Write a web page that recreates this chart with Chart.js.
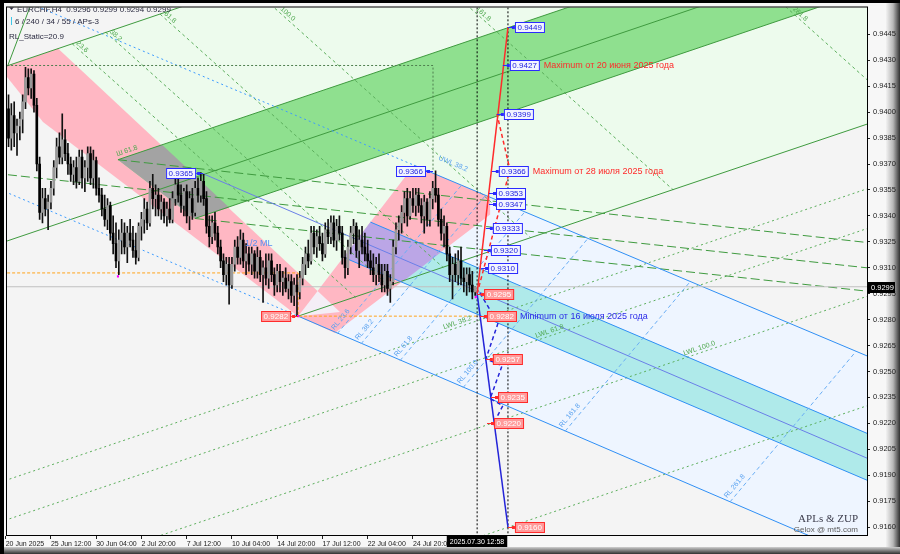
<!DOCTYPE html>
<html>
<head>
<meta charset="utf-8">
<script src="https://cdn.jsdelivr.net/npm/chart.js@4.4.1/dist/chart.umd.min.js"></script>
<style>
html,body{margin:0;padding:0;background:#000;}
canvas{display:block;}
</style>
</head>
<body>
<canvas id="c" width="900" height="554"></canvas>
<script>
// EURCHF H4 candles, bar index 0 = 20 Jun 20:00
const opens=[0.9385,0.9402,0.9385,0.9398,0.9388,0.9392,0.9396,0.9406,0.9420,0.9414,0.9422,0.9404,0.9370,0.9342,0.9350,0.9344,0.9348,0.9356,0.9368,0.9380,
0.9374,0.9384,0.9376,0.9370,0.9364,0.9368,0.9360,0.9374,0.9362,0.9368,0.9376,0.9362,0.9372,0.9356,0.9352,0.9344,0.9338,0.9346,0.9330,0.9324,
0.9314,0.9326,0.9330,0.9322,0.9330,0.9326,0.9320,0.9316,0.9334,0.9338,0.9344,0.9336,0.9356,0.9350,0.9352,0.9344,0.9348,0.9340,0.9344,0.9338,
0.9350,0.9358,0.9352,0.9346,0.9354,0.9340,0.9350,0.9342,0.9356,0.9352,0.9360,0.9350,0.9334,0.9328,0.9336,0.9330,0.9322,0.9314,0.9306,0.9312,
0.9300,0.9312,0.9322,0.9316,0.9326,0.9314,0.9318,0.9312,0.9318,0.9308,0.9316,0.9306,0.9310,0.9304,0.9314,0.9306,0.9300,0.9308,0.9302,0.9304,
0.9298,0.9302,0.9294,0.9300,0.9296,0.9304,0.9312,0.9318,0.9314,0.9330,0.9322,0.9328,0.9324,0.9318,0.9332,0.9328,0.9336,0.9326,0.9334,0.9330,
0.9316,0.9310,0.9322,0.9330,0.9334,0.9320,0.9326,0.9322,0.9318,0.9314,0.9310,0.9306,0.9312,0.9306,0.9300,0.9308,0.9298,0.9302,0.9322,0.9332,
0.9336,0.9342,0.9350,0.9340,0.9350,0.9346,0.9352,0.9346,0.9340,0.9348,0.9338,0.9350,0.9356,0.9352,0.9338,0.9330,0.9334,0.9318,0.9306,0.9312,
0.9306,0.9314,0.9304,0.9302,0.9306,0.9300,0.9296];
const highs=[0.9408,0.9410,0.9405,0.9406,0.9396,0.9400,0.9410,0.9426,0.9425,0.9425,0.9424,0.9408,0.9374,0.9356,0.9356,0.9352,0.9360,0.9372,0.9385,0.9388,
0.9399,0.9390,0.9382,0.9374,0.9372,0.9374,0.9378,0.9378,0.9372,0.9380,0.9380,0.9378,0.9374,0.9362,0.9356,0.9352,0.9350,0.9348,0.9340,0.9336,
0.9332,0.9338,0.9336,0.9334,0.9338,0.9334,0.9330,0.9336,0.9342,0.9350,0.9348,0.9360,0.9364,0.9358,0.9356,0.9352,0.9350,0.9348,0.9350,0.9354,
0.9362,0.9362,0.9358,0.9356,0.9358,0.9354,0.9356,0.9360,0.9362,0.9365,0.9364,0.9354,0.9340,0.9340,0.9342,0.9334,0.9326,0.9318,0.9316,0.9316,
0.9316,0.9326,0.9328,0.9332,0.9330,0.9324,0.9322,0.9322,0.9320,0.9322,0.9320,0.9314,0.9318,0.9318,0.9318,0.9310,0.9312,0.9312,0.9308,0.9310,
0.9306,0.9306,0.9304,0.9306,0.9308,0.9316,0.9322,0.9326,0.9334,0.9334,0.9332,0.9334,0.9330,0.9336,0.9338,0.9340,0.9340,0.9338,0.9340,0.9334,
0.9320,0.9326,0.9334,0.9338,0.9336,0.9332,0.9334,0.9330,0.9326,0.9320,0.9318,0.9316,0.9318,0.9312,0.9312,0.9312,0.9306,0.9326,0.9336,0.9340,
0.9346,0.9354,0.9356,0.9354,0.9356,0.9356,0.9356,0.9350,0.9352,0.9350,0.9354,0.9360,0.9366,0.9356,0.9344,0.9340,0.9336,0.9322,0.9316,0.9318,
0.9320,0.9322,0.9310,0.9310,0.9310,0.9308,0.9299];
const lows=[0.9366,0.9380,0.9378,0.9380,0.9375,0.9384,0.9388,0.9402,0.9410,0.9408,0.9400,0.9366,0.9338,0.9336,0.9340,0.9332,0.9344,0.9352,0.9362,0.9370,
0.9370,0.9372,0.9364,0.9360,0.9358,0.9356,0.9358,0.9356,0.9354,0.9360,0.9358,0.9356,0.9352,0.9348,0.9340,0.9334,0.9332,0.9326,0.9318,0.9310,
0.9306,0.9318,0.9318,0.9313,0.9322,0.9316,0.9312,0.9314,0.9326,0.9330,0.9332,0.9334,0.9344,0.9340,0.9340,0.9338,0.9336,0.9334,0.9336,0.9336,
0.9346,0.9348,0.9342,0.9340,0.9336,0.9332,0.9338,0.9340,0.9348,0.9348,0.9346,0.9330,0.9322,0.9324,0.9326,0.9318,0.9310,0.9302,0.9300,0.9289,
0.9298,0.9308,0.9312,0.9312,0.9310,0.9306,0.9308,0.9306,0.9304,0.9304,0.9302,0.9290,0.9300,0.9298,0.9302,0.9294,0.9296,0.9296,0.9294,0.9296,
0.9292,0.9290,0.9288,0.9282,0.9292,0.9300,0.9306,0.9310,0.9312,0.9318,0.9316,0.9320,0.9314,0.9316,0.9324,0.9324,0.9322,0.9320,0.9326,0.9312,
0.9304,0.9306,0.9318,0.9324,0.9316,0.9310,0.9318,0.9314,0.9310,0.9306,0.9302,0.9300,0.9302,0.9296,0.9296,0.9294,0.9290,0.9300,0.9318,0.9326,
0.9330,0.9336,0.9334,0.9338,0.9342,0.9340,0.9342,0.9336,0.9330,0.9334,0.9334,0.9344,0.9348,0.9334,0.9326,0.9322,0.9314,0.9302,0.9292,0.9302,
0.9300,0.9300,0.9296,0.9294,0.9296,0.9292,0.9294];
const closes=[0.9402,0.9385,0.9398,0.9388,0.9392,0.9396,0.9406,0.9420,0.9414,0.9422,0.9404,0.9370,0.9342,0.9350,0.9344,0.9348,0.9356,0.9368,0.9380,0.9374,
0.9384,0.9376,0.9370,0.9364,0.9368,0.9360,0.9374,0.9362,0.9368,0.9376,0.9362,0.9372,0.9356,0.9352,0.9344,0.9338,0.9346,0.9330,0.9324,0.9314,
0.9326,0.9330,0.9322,0.9330,0.9326,0.9320,0.9316,0.9334,0.9338,0.9344,0.9336,0.9356,0.9350,0.9352,0.9344,0.9348,0.9340,0.9344,0.9338,0.9350,
0.9358,0.9352,0.9346,0.9354,0.9340,0.9350,0.9342,0.9356,0.9352,0.9360,0.9350,0.9334,0.9328,0.9336,0.9330,0.9322,0.9314,0.9306,0.9312,0.9300,
0.9312,0.9322,0.9316,0.9326,0.9314,0.9318,0.9312,0.9318,0.9308,0.9316,0.9306,0.9310,0.9304,0.9314,0.9306,0.9300,0.9308,0.9302,0.9304,0.9298,
0.9302,0.9294,0.9300,0.9296,0.9304,0.9312,0.9318,0.9314,0.9330,0.9322,0.9328,0.9324,0.9318,0.9332,0.9328,0.9336,0.9326,0.9334,0.9330,0.9316,
0.9310,0.9322,0.9330,0.9334,0.9320,0.9326,0.9322,0.9318,0.9314,0.9310,0.9306,0.9312,0.9306,0.9300,0.9308,0.9298,0.9302,0.9322,0.9332,0.9336,
0.9342,0.9350,0.9340,0.9350,0.9346,0.9352,0.9346,0.9340,0.9348,0.9338,0.9350,0.9356,0.9352,0.9338,0.9330,0.9334,0.9318,0.9306,0.9312,0.9306,
0.9314,0.9304,0.9302,0.9306,0.9300,0.9296,0.9299];

const timeTicks=[0,16,32,48,64,80,96,112,128,144];
const timeLabels=["20 Jun 2025","25 Jun 12:00","30 Jun 04:00","2 Jul 20:00","7 Jul 12:00","10 Jul 04:00","14 Jul 20:00","17 Jul 12:00","22 Jul 04:00","24 Jul 20:00"];
const priceTicks=[0.9160,0.9175,0.9190,0.9205,0.9220,0.9235,0.9250,0.9265,0.9280,0.9295,0.9310,0.9325,0.9340,0.9355,0.9370,0.9385,0.9400,0.9415,0.9430,0.9445];

// filled zones [bar, price]
const paleGreenZone=[[18.5,0.94369],[316.2,0.96016],[316.2,0.93995],[103.4,0.9282]];
const lightBlueZone=[[103.4,0.9282],[144.4,0.93693],[316.2,0.92510],[316.2,0.91324]];
const pinkZone1=[[-2.0,0.94254],[18.5,0.94369],[118.2,0.92844],[103.4,0.9282],[13.2,0.93943]];
const greenBand=[[39.7,0.93725],[316.2,0.95256],[316.2,0.94767],[66.9,0.93385]];
const grayZone=[[39.7,0.93725],[55.3,0.93811],[79.0,0.93448],[66.9,0.93385]];
const cyanBand=[[119.5,0.93160],[129.0,0.93364],[316.2,0.92061],[316.2,0.91790]];
const pinkZone2=[[103.4,0.9282],[144.4,0.93693],[171.3,0.93509],[171.3,0.93408],[116.4,0.92723]];
const purpleZone=[[129.0,0.93364],[153.9,0.93189],[140.1,0.93016],[119.5,0.93160]];
const whiteZone=[[103.4,0.9282],[110.3,0.92965],[118.2,0.92844]];

// green pitchfork lines
const greenSolid=[
  [[-2.0,0.94254],[68.7,0.94646]],
  [[0.8,0.94272],[9.3,0.94640]],
  [[39.7,0.93725],[316.2,0.95256]],
  [[-2.0,0.93241],[316.2,0.95003]],
  [[66.9,0.93385],[316.2,0.94767]],
  [[103.4,0.9282],[316.2,0.93995]]
];
const greenDotted=[
  [[-2.0,0.91859],[316.2,0.93621]],
  [[-2.0,0.91629],[316.2,0.93391]],
  [[-2.0,0.91237],[316.2,0.92999]],
  [[-2.0,0.90604],[316.2,0.92366]]
];
const greenLongDash=[
  [[39.7,0.93725],[316.2,0.93225]],
  [[0.8,0.93638],[316.2,0.93079]],
  [[66.9,0.93385],[316.2,0.92944]]
];
const greenFan=[
  [[23.5,0.94396],[123.7,0.92929]],
  [[35.4,0.94462],[135.5,0.92994]],
  [[54.6,0.94567],[154.7,0.93101]],
  [[85.7,0.94740],[185.7,0.93273]],
  [[135.9,0.95018],[236.0,0.93551]],
  [[217.3,0.95468],[317.3,0.94001]]
];
const greenFanNames=["23.6","38.2","61.8","100.0","161.8","261.8"];

// blue pitchfork lines
const blueSolid=[
  [[103.4,0.9282],[316.2,0.91324]],
  [[144.4,0.93693],[316.2,0.92510]],
  [[129.0,0.93364],[316.2,0.92061]],
  [[119.5,0.93160],[316.2,0.91790]]
];
const blueMedian=[[69.8,0.93644],[316.2,0.91917]];
const blueDotted=[
  [[-2.0,0.93552],[103.4,0.9282]],
  [[-2.0,0.94702],[144.4,0.93693]]
];
const blueRL=[
  [[117.2,0.92718],[161.2,0.93578]],
  [[125.6,0.92659],[169.7,0.93519]],
  [[139.4,0.92562],[183.6,0.93424]],
  [[161.7,0.92406],[205.9,0.93270]],
  [[197.8,0.92154],[242.1,0.93021]],
  [[256.1,0.91745],[300.7,0.92617]]
];
const blueRLNames=["RL 23.6","RL 38.2","RL 61.8","RL 100.0","RL 161.8","RL 261.8"];

const maxLevel=[[0.5,0.9427],[151.1,0.9427],[151.1,0.9366]];
const minLevel=[[0.5,0.9307],[103.4,0.9307],[103.4,0.9282],[167.7,0.9282]];
const bidLine=[[0.5,0.9299],[305,0.9299]];
const nowBar=166.7, targetBar=177.6;

// ZUP projections
const upSolid=[[166.7,0.9295],[177.6,0.9449]];
const upDash=[[166.7,0.9295],[178.3,0.93667],[173.7,0.9399]];
const downSolid=[[166.7,0.9295],[177.6,0.9160]];
const downDash=[[167.7,0.92953],[174.1,0.92780],[169.8,0.92573],[175.5,0.92533],[171.3,0.92343],[175.8,0.92302],[172.3,0.92193]];
const upLevels=[0.9449,0.9427,0.9399,0.9366,0.9353,0.9347,0.9333,0.9320,0.9310];
const upBars=[177.6,175.8,173.7,171.9,170.9,170.9,169.8,169.1,168.1];
const downLevels=[0.9295,0.9282,0.9257,0.9235,0.9220,0.9160];
const downBars=[166.7,167.7,169.8,171.6,170.2,177.6];

const layers=[];
const P=a=>a.map(p=>({x:p[0],y:p[1]}));
function zone(pts,color){
  layers.push({type:'line',data:P(pts.concat([pts[0]])),fill:'shape',backgroundColor:color,borderWidth:0,pointRadius:0});
}
function path(pts,color,w,dash){
  layers.push({type:'line',data:P(pts),fill:false,borderColor:color,borderWidth:w,borderDash:dash||[],pointRadius:0});
}

zone(paleGreenZone,'#edfbed');
zone(lightBlueZone,'#eef5ff');
zone(pinkZone1,'#ffb7c3');
zone(greenBand,'#8fe08f');
zone(grayZone,'#a3a3a3');
zone(cyanBand,'#afeaea');
zone(pinkZone2,'#ffb7c3');
zone(purpleZone,'#bba6e6');
zone(whiteZone,'#f4eef6');

greenDotted.forEach(l=>path(l,'#5cae5c',1,[2,3]));
greenFan.forEach(l=>path(l,'#5cae5c',1,[3,3]));
greenLongDash.forEach(l=>path(l,'#3f9a3f',1,[9,4]));
greenSolid.forEach(l=>path(l,'#3f9a3f',1));
blueDotted.forEach(l=>path(l,'#3d9bff',1,[2,3]));
blueSolid.forEach(l=>path(l,'#2f8ff5',1));
path(blueMedian,'#6a7fe8',1);
blueRL.forEach(l=>path(l,'#6aaef5',1,[4,3]));
path(maxLevel,'#4f7f4f',1,[2,2]);
path(minLevel,'#ffa31a',1,[3,2]);
path(bidLine,'#c0c0c0',1);
path([[nowBar,0.95],[nowBar,0.91]],'#000',1,[2,2]);
path([[targetBar,0.95],[targetBar,0.91]],'#000',1,[2,2]);

layers.push({type:'bar',data:highs.map((h,i)=>({x:i,y:[lows[i],h]})),backgroundColor:'#111',barThickness:1,grouped:false,borderWidth:0});
layers.push({type:'bar',data:opens.map((o,i)=>({x:i,y:[o,closes[i]]})),backgroundColor:opens.map((o,i)=>closes[i]>=o?'#999999':'#000'),barThickness:2,grouped:false,borderWidth:0,minBarLength:1});

path(upSolid,'#ff2a2a',1.5);
path(upDash,'#ff2a2a',1.5,[4,3]);
path(downSolid,'#2424d8',1.5);
path(downDash,'#2424d8',1.5,[4,3]);
layers.push({type:'scatter',data:P([[39.7,0.9305],[103.4,0.9282],[166.2,0.9293]]),pointStyle:'rect',pointRadius:1.5,backgroundColor:'#ff00ff',borderWidth:0});

layers.forEach((d,i)=>{d.order=layers.length-i;});

const FONT='"Liberation Sans", Arial, sans-serif';

function priceBox(ctx,x,y,txt,blue,side){
  ctx.font='8px '+FONT;
  const w=Math.ceil(ctx.measureText(txt).width)+5, h=11;
  const bx=side>0?x+7:x-7-w;
  const edge=blue?'#2b2bff':'#ff2b2b';
  ctx.strokeStyle=edge; ctx.lineWidth=1;
  ctx.beginPath();
  ctx.moveTo(x,Math.round(y)+0.5); ctx.lineTo(side>0?bx:bx+w,Math.round(y)+0.5); ctx.stroke();
  ctx.fillStyle=edge; ctx.fillRect(side>0?bx-3:bx+w+1,Math.round(y)-1,3,3);
  ctx.fillStyle=blue?'#f2f4ff':'#ff9a9a';
  ctx.fillRect(bx,Math.round(y)-5,w,h);
  ctx.strokeRect(bx+0.5,Math.round(y)-4.5,w-1,h-1);
  ctx.fillStyle=blue?'#2020e0':'#ffffff';
  ctx.textBaseline='middle'; ctx.textAlign='left';
  ctx.fillText(txt,bx+2.5,Math.round(y)+0.5);
  return bx+w;
}
function label(ctx,txt,x,y,deg,color,size){
  ctx.save();
  ctx.translate(x,y); ctx.rotate(deg*Math.PI/180);
  ctx.font=(size||7)+'px '+FONT; ctx.fillStyle=color;
  ctx.textAlign='left'; ctx.textBaseline='bottom';
  ctx.fillText(txt,0,-1);
  ctx.restore();
}

const overlay={
  id:'overlay',
  beforeDraw(chart){
    const ctx=chart.ctx, a=chart.chartArea;
    ctx.save();
    ctx.fillStyle='#f7f7f7'; ctx.fillRect(0,0,900,554);
    let g=ctx.createLinearGradient(886,0,900,0);
    g.addColorStop(0,'#f2f2f2'); g.addColorStop(0.5,'#b8b8b8'); g.addColorStop(1,'#303030');
    ctx.fillStyle=g; ctx.fillRect(886,0,14,554);
    g=ctx.createLinearGradient(0,547,0,554);
    g.addColorStop(0,'#d0d0d0'); g.addColorStop(1,'#303030');
    ctx.fillStyle=g; ctx.fillRect(0,547,900,7);
    ctx.fillStyle='#000'; ctx.fillRect(0,0,900,3); ctx.fillRect(0,0,4,554);
    ctx.fillStyle='#f4f4f4'; ctx.fillRect(a.left,a.top,a.right-a.left,a.bottom-a.top);
    ctx.restore();
  },
  afterDatasetsDraw(chart){
    const ctx=chart.ctx, a=chart.chartArea, xs=chart.scales.x, ys=chart.scales.y;
    const X=v=>xs.getPixelForValue(v), Y=v=>ys.getPixelForValue(v);
    ctx.save();
    ctx.beginPath(); ctx.rect(a.left,a.top,a.right-a.left,a.bottom-a.top); ctx.clip();
    // line captions
    greenFan.forEach((l,i)=>{
      const t=(Y(l[0][1])<a.top+2)?(a.top+2-Y(l[0][1]))/(Y(l[1][1])-Y(l[0][1])):0;
      const x=X(l[0][0])+(X(l[1][0])-X(l[0][0]))*t, y=Y(l[0][1])+(Y(l[1][1])-Y(l[0][1]))*t;
      label(ctx,greenFanNames[i],x+2,y+2,42,'#4fa84f',7);
    });
    blueRL.forEach((l,i)=>label(ctx,blueRLNames[i],X(l[0][0])-1,Y(l[0][1])-2,-50,'#5aa2f0',7));
    label(ctx,'Ш 61.8',X(39.7),Y(0.93725)-1,-19,'#4fa84f',7);
    label(ctx,'LWL 38.2',X(155.3),Y(0.92730),-19,'#4fa84f',7);
    label(ctx,'LWL 61.8',X(187.9),Y(0.92680),-19,'#4fa84f',7);
    label(ctx,'LWL 100.0',X(240.2),Y(0.92578),-19,'#4fa84f',7);
    label(ctx,'UWL 38.2',X(152.5),Y(0.93713),23,'#5aa2f0',7);
    label(ctx,'1/2 ML',X(84.6),Y(0.93212)+1,0,'#5a8ff0',9);
    // level boxes
    let r;
    upLevels.forEach((v,i)=>{
      r=priceBox(ctx,X(upBars[i]),Y(v),v.toFixed(4),true,1);
      ctx.font='9px '+FONT; ctx.fillStyle='#ff2a2a'; ctx.textBaseline='middle';
      if(v===0.9427) ctx.fillText('Maximum от 20 июня 2025 года',r+4,Y(v)+0.5);
      if(v===0.9366) ctx.fillText('Maximum от 28 июля 2025 года',r+4,Y(v)+0.5);
    });
    downLevels.forEach((v,i)=>{
      r=priceBox(ctx,X(downBars[i]),Y(v),v.toFixed(4),false,1);
      if(v===0.9282){ ctx.font='9px '+FONT; ctx.fillStyle='#2a2ae8'; ctx.textBaseline='middle'; ctx.fillText('Minimum от 16 июля 2025 года',r+3,Y(v)+0.5); }
    });
    priceBox(ctx,X(69.8),Y(0.9365),'0.9365',true,-1);
    priceBox(ctx,X(151.1),Y(0.9366),'0.9366',true,-1);
    priceBox(ctx,X(103.4),Y(0.9282),'0.9282',false,-1);
    // header
    ctx.textBaseline='alphabetic'; ctx.textAlign='left';
    ctx.fillStyle='#2a2a40'; ctx.font='8px '+FONT;
    ctx.beginPath(); ctx.moveTo(9,7); ctx.lineTo(14,7); ctx.lineTo(11.5,10); ctx.closePath(); ctx.fill();
    ctx.fillText('EURCHF,H4  0.9296 0.9299 0.9294 0.9299',17,12);
    ctx.fillStyle='#3fc6e8'; ctx.fillRect(11,17,1,8);
    ctx.fillStyle='#2a2a40'; ctx.fillText('6 / 240 / 34 / 55 / APs-3',15,24);
    ctx.fillText('RL_Static=20.9',9,39);
    ctx.font='11px "Liberation Serif", serif'; ctx.fillStyle='#3c3c4c'; ctx.textAlign='right';
    ctx.fillText('APLs & ZUP',858,522);
    ctx.font='8px '+FONT; ctx.fillStyle='#5a5a5a';
    ctx.fillText('Gelox @ mt5.com',858,532);
    ctx.restore();
  },
  afterDraw(chart){
    const ctx=chart.ctx, a=chart.chartArea, xs=chart.scales.x, ys=chart.scales.y;
    ctx.save();
    ctx.strokeStyle='#000'; ctx.lineWidth=1;
    ctx.strokeRect(a.left-0.5,a.top-0.5,a.right-a.left+1,a.bottom-a.top+1);
    ctx.font='7.5px '+FONT; ctx.textBaseline='middle';
    const py=Math.round(ys.getPixelForValue(0.9299));
    ctx.fillStyle='#000'; ctx.fillRect(a.right+1,py-5,27,11);
    ctx.fillStyle='#fff'; ctx.textAlign='left'; ctx.fillText('0.9299',a.right+4,py+0.5);
    ctx.font='7px '+FONT;
    const px=Math.round(xs.getPixelForValue(nowBar));
    const t='2025.07.30 12:58', w=ctx.measureText(t).width+6;
    ctx.fillStyle='#000'; ctx.fillRect(px-w/2,a.bottom+1,w,11);
    ctx.fillStyle='#fff'; ctx.textAlign='center'; ctx.fillText(t,px,a.bottom+7);
    ctx.restore();
  }
};

new Chart(document.getElementById('c'),{
  type:'scatter',
  data:{datasets:layers},
  options:{
    responsive:false, animation:false, events:[],
    layout:{padding:{left:7,top:5,right:0,bottom:0}},
    plugins:{legend:{display:false},tooltip:{enabled:false}},
    scales:{
      x:{type:'linear',min:0.46,max:304.56,offset:false,
        afterFit:s=>{s.height=19;},
        afterBuildTicks:s=>{s.ticks=timeTicks.map(v=>({value:v}));},
        ticks:{autoSkip:false,maxRotation:0,align:'start',padding:1,color:'#222',font:{family:FONT,size:7},callback:(v,i)=>timeLabels[i]},
        grid:{drawOnChartArea:false,drawTicks:true,tickLength:4,color:'#222',offset:false},
        border:{display:true,color:'#000'}},
      y:{type:'linear',position:'right',min:0.91554,max:0.946055,
        afterFit:s=>{s.width=33;},
        afterBuildTicks:s=>{s.ticks=priceTicks.map(v=>({value:v}));},
        ticks:{autoSkip:false,padding:3,color:'#222',font:{family:FONT,size:7.5},callback:v=>v.toFixed(4)},
        grid:{drawOnChartArea:false,drawTicks:true,tickLength:3,color:'#222'},
        border:{display:true,color:'#000'}}
    }
  },
  plugins:[overlay]
});
</script>
</body>
</html>
